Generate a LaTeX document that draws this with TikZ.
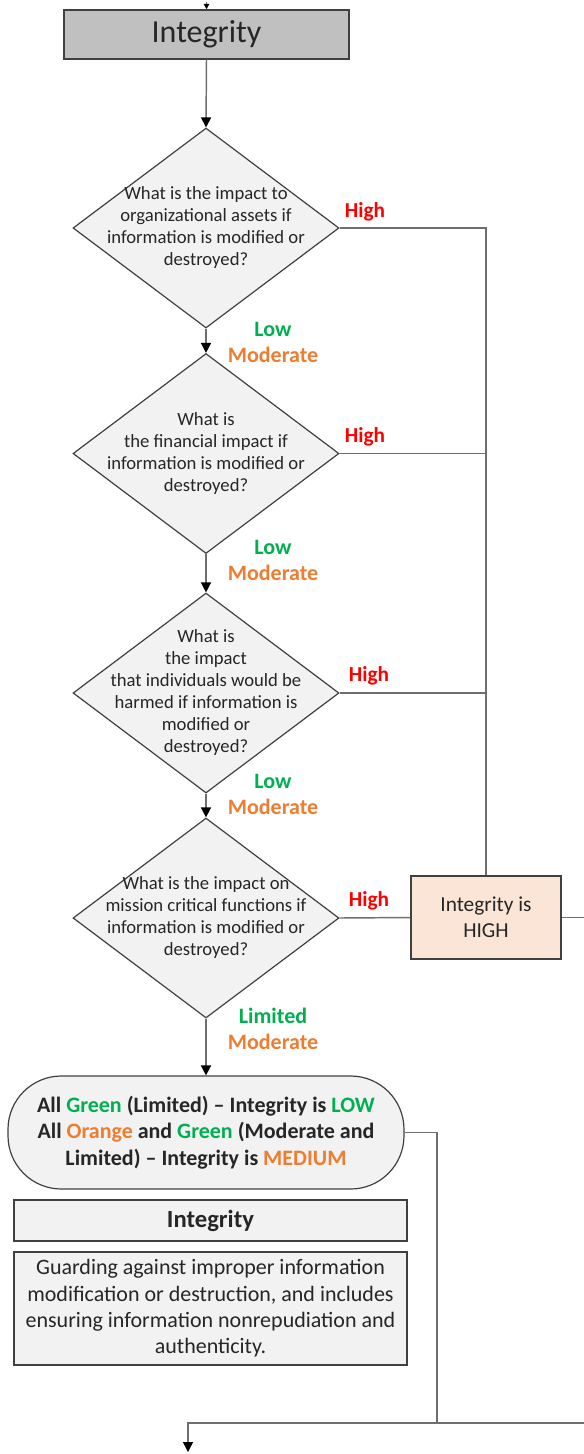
\documentclass[tikz,border=0pt]{standalone}
\usepackage{fontspec}
\setmainfont{Carlito}
\usetikzlibrary{shapes.geometric,arrows.meta}
\definecolor{cred}{HTML}{FF0000}
\definecolor{cgreen}{HTML}{00B050}
\definecolor{corange}{HTML}{ED7D31}
\definecolor{topgray}{HTML}{C0C0C0}
\definecolor{lightfill}{HTML}{F2F2F2}
\definecolor{peach}{HTML}{FBE5D6}
\definecolor{edgecol}{HTML}{404040}
\definecolor{wirecol}{HTML}{6E6E6E}
\begin{document}
\begin{tikzpicture}[x=0.75pt,y=-0.75pt,
  box/.style={draw=edgecol, line width=1.1pt, inner sep=0pt, align=center, text=black!85},
  dia/.style={draw=edgecol, line width=0.9pt, fill=lightfill, diamond, minimum width=199.5pt, minimum height=150pt, inner sep=0pt},
  qtext/.style={align=center, inner sep=0pt, font=\fontsize{14}{16.5}\selectfont, text=black!85},
  wire/.style={draw=wirecol, line width=1.1pt},
  arr/.style={wire, -{Triangle[width=7.5pt,length=7.5pt,color=black]}},
  hi/.style={inner sep=0pt, font=\fontsize{16}{18}\selectfont\bfseries, text=cred},
  lm/.style={align=center, inner sep=0pt, font=\fontsize{16.5}{19.5}\selectfont\bfseries}
]
\useasboundingbox (0,0) rectangle (584,1454);

% top title
\node[box, fill=topgray, minimum width=213.75pt, minimum height=36.75pt,
      font=\fontsize{24}{28}\selectfont] (top) at (206.5,34.5) {Integrity};
\coordinate (stub) at (206.5,2);
\draw[wire, -{Triangle[width=4pt,length=4pt,color=black]}] (stub) -- (top.north);

% diamonds
\node[dia] (d1) at (206,228) {};
\node[qtext] (t1) at (d1.center) {What is the impact to\\organizational assets if\\information is modified or\\destroyed?};
\node[dia] (d2) at (206,453.5) {};
\node[qtext] (t2) at (d2.center) {What is\\the financial impact if\\information is modified or\\destroyed?};
\node[dia] (d3) at (206,693) {};
\node[qtext] (t3) at (d3.center) {What is\\the impact\\that individuals would be\\harmed if information is\\modified or\\destroyed?};
\node[dia] (d4) at (206,918) {};
\node[qtext] (t4) at (d4.center) {What is the impact on\\mission critical functions if\\information is modified or\\destroyed?};

% high box
\node[box, fill=peach, minimum width=112.5pt, minimum height=62.25pt,
      font=\fontsize{16}{19.3}\selectfont] (hb) at (486,917.5) {Integrity is\\HIGH};

% terminal
\node[box, fill=lightfill, minimum width=297pt, minimum height=84.75pt, rounded corners=40pt,
      line width=0.9pt, font=\fontsize{16.5}{20}\selectfont\bfseries] (term) at (206,1132.5)
  {All \textcolor{cgreen}{Green} (Limited) – Integrity is \textcolor{cgreen}{LOW}\\
   All \textcolor{corange}{Orange} and \textcolor{cgreen}{Green} (Moderate and\\
   Limited) – Integrity is \textcolor{corange}{MEDIUM}};

% header and description
\node[box, fill=lightfill, minimum width=294.75pt, minimum height=30.75pt,
      font=\fontsize{18.5}{22}\selectfont\bfseries] (hdr) at (210.5,1220.5) {Integrity};
\node[box, fill=lightfill, minimum width=294.75pt, minimum height=84.75pt,
      font=\fontsize{16.5}{19.8}\selectfont] (desc) at (210.5,1308.5)
  {Guarding against improper information\\modification or destruction, and includes\\ensuring information nonrepudiation and\\authenticity.};

% high labels
\node[hi] (h1) at (365,212) {High};
\node[hi] (h2) at (365,437) {High};
\node[hi] (h3) at (369,676) {High};
\node[hi] (h4) at (369,901) {High};

% low / moderate labels
\node[lm] (l1) at (273,342) {\textcolor{cgreen}{Low}\\\textcolor{corange}{Moderate}};
\node[lm] (l2) at (273,560) {\textcolor{cgreen}{Low}\\\textcolor{corange}{Moderate}};
\node[lm] (l3) at (273,794) {\textcolor{cgreen}{Low}\\\textcolor{corange}{Moderate}};
\node[lm] (l4) at (273,1028.5) {\textcolor{cgreen}{Limited}\\\textcolor{corange}{Moderate}};

% vertical flow
\draw[arr] (top.south) -- (d1.north);
\draw[arr] (d1.south) -- (d2.north);
\draw[arr] (d2.south) -- (d3.north);
\draw[arr] (d3.south) -- (d4.north);
\draw[arr] (d4.south) -- (term.north);

% high branches
\coordinate (j1) at (486,228);
\coordinate (j2) at (486,453.5);
\coordinate (j3) at (486,693);
\draw[wire] (d1.east) -- (j1) -- (hb.north);
\draw[wire] (d2.east) -- (j2);
\draw[wire] (d3.east) -- (j3);
\draw[wire] (d4.east) -- (hb.west);
\coordinate (hbout) at (584,917.5);
\draw[wire] (hb.east) -- (hbout);

% bottom connector
\coordinate (tc) at (437,1132.5);
\coordinate (tb) at (437,1423);
\coordinate (rin) at (584,1423);
\coordinate (outp) at (188,1452);
\draw[wire] (term.east) -- (tc) -- (tb);
\draw[arr] (rin) -| (outp);
\end{tikzpicture}
\end{document}
